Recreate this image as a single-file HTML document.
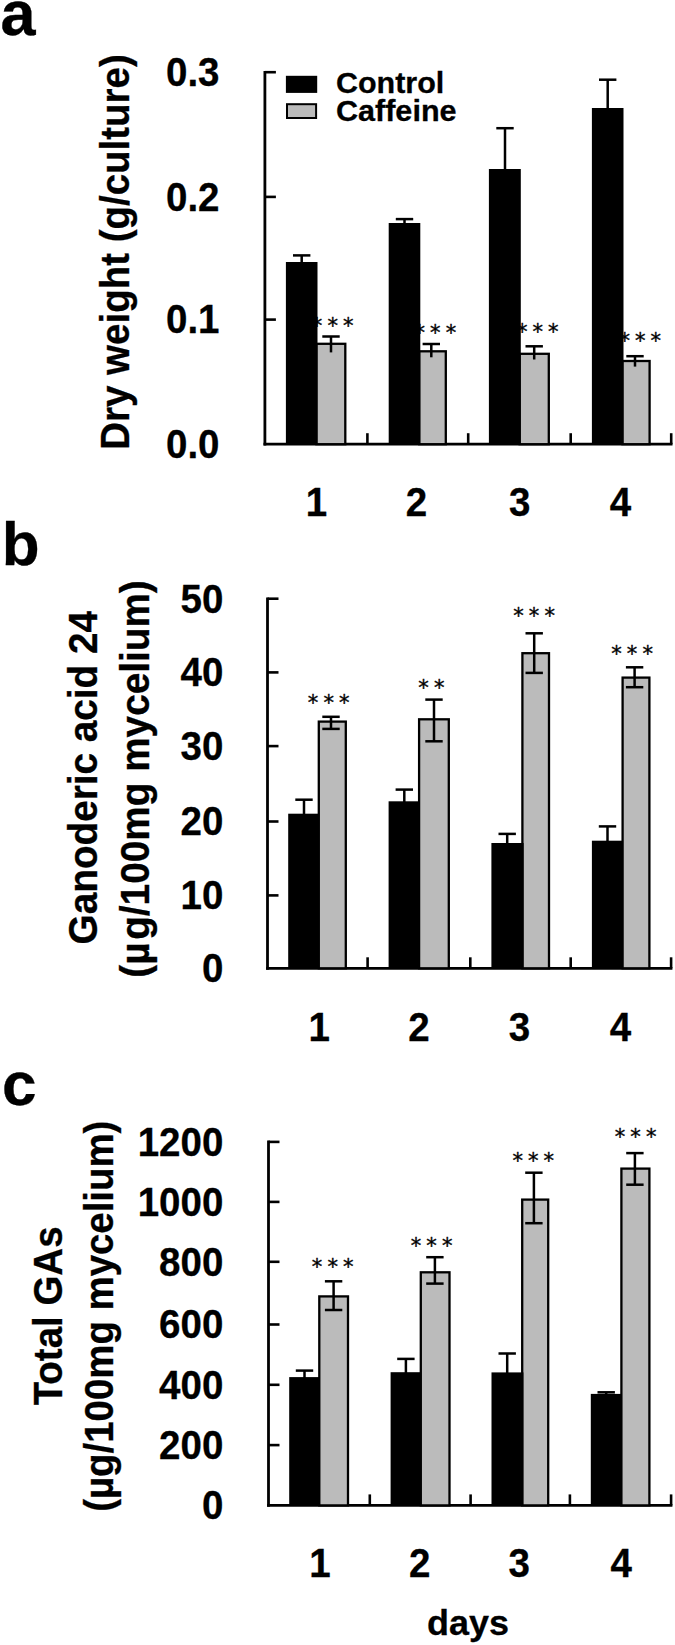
<!DOCTYPE html>
<html lang="en"><head><meta charset="utf-8"><title>Figure</title>
<style>html,body{margin:0;padding:0;background:#fff}svg{display:block}svg text{font-family:"Liberation Sans", sans-serif;fill:#000;stroke:#000;stroke-width:0.3px}.st{font-family:"DejaVu Sans","Liberation Sans",sans-serif;font-weight:normal;font-size:21px;letter-spacing:5.1px;stroke:#000;stroke-width:0.35px}</style></head><body>
<svg width="675" height="1645" viewBox="0 0 675 1645">
<rect width="675" height="1645" fill="#fff"/>
<text x="0.6" y="35.2" font-size="63" font-weight="bold" text-anchor="start">a</text>
<text x="1.8" y="565.0" font-size="62" font-weight="bold" text-anchor="start">b</text>
<text x="2.0" y="1104.9" font-size="62" font-weight="bold" text-anchor="start">c</text>
<text class="st" x="335.2" y="333.2" text-anchor="middle">***</text>
<text class="st" x="437.9" y="339.7" text-anchor="middle">***</text>
<text class="st" x="540.3" y="339.1" text-anchor="middle">***</text>
<text class="st" x="642.8" y="347.6" text-anchor="middle">***</text>
<line x1="264.9" y1="70.9" x2="264.9" y2="445.6" stroke="#000" stroke-width="2.8"/>
<line x1="263.5" y1="444.2" x2="672.5" y2="444.2" stroke="#000" stroke-width="2.8"/>
<line x1="264.9" y1="72.2" x2="275.9" y2="72.2" stroke="#000" stroke-width="2.6"/>
<line x1="264.9" y1="196.9" x2="275.9" y2="196.9" stroke="#000" stroke-width="2.6"/>
<line x1="264.9" y1="319.6" x2="275.9" y2="319.6" stroke="#000" stroke-width="2.6"/>
<line x1="367.4" y1="444.2" x2="367.4" y2="433.2" stroke="#000" stroke-width="2.6"/>
<line x1="468.2" y1="444.2" x2="468.2" y2="433.2" stroke="#000" stroke-width="2.6"/>
<line x1="570.7" y1="444.2" x2="570.7" y2="433.2" stroke="#000" stroke-width="2.6"/>
<line x1="671.2" y1="444.2" x2="671.2" y2="433.2" stroke="#000" stroke-width="2.6"/>
<text transform="translate(219.5,86.0) scale(1,1.038)" font-size="38.5" font-weight="bold" text-anchor="end">0.3</text>
<text transform="translate(219.5,210.7) scale(1,1.038)" font-size="38.5" font-weight="bold" text-anchor="end">0.2</text>
<text transform="translate(219.5,333.4) scale(1,1.038)" font-size="38.5" font-weight="bold" text-anchor="end">0.1</text>
<text transform="translate(219.5,458.1) scale(1,1.038)" font-size="38.5" font-weight="bold" text-anchor="end">0.0</text>
<text transform="translate(316.5,516.2) scale(1,1.038)" font-size="38.5" font-weight="bold" text-anchor="middle">1</text>
<text transform="translate(416.4,516.2) scale(1,1.038)" font-size="38.5" font-weight="bold" text-anchor="middle">2</text>
<text transform="translate(519.6,516.2) scale(1,1.038)" font-size="38.5" font-weight="bold" text-anchor="middle">3</text>
<text transform="translate(620.5,516.2) scale(1,1.038)" font-size="38.5" font-weight="bold" text-anchor="middle">4</text>
<text transform="translate(128.9,252.0) rotate(-90) scale(1,1.038)" font-size="38.5" font-weight="bold" text-anchor="middle">Dry weight (g/culture)</text>
<rect x="316.4" y="343.8" width="28.9" height="100.4" fill="#bbbbbb" stroke="#000" stroke-width="2.3"/>
<line x1="331.0" y1="336.5" x2="331.0" y2="352.4" stroke="#000" stroke-width="2.5"/>
<line x1="322.3" y1="336.5" x2="339.7" y2="336.5" stroke="#000" stroke-width="2.5"/>
<rect x="419.2" y="351.3" width="26.6" height="92.9" fill="#bbbbbb" stroke="#000" stroke-width="2.3"/>
<line x1="431.3" y1="344.0" x2="431.3" y2="357.3" stroke="#000" stroke-width="2.5"/>
<line x1="422.6" y1="344.0" x2="440.0" y2="344.0" stroke="#000" stroke-width="2.5"/>
<rect x="519.6" y="353.8" width="29.2" height="90.4" fill="#bbbbbb" stroke="#000" stroke-width="2.3"/>
<line x1="534.2" y1="346.3" x2="534.2" y2="359.5" stroke="#000" stroke-width="2.5"/>
<line x1="525.5" y1="346.3" x2="542.9" y2="346.3" stroke="#000" stroke-width="2.5"/>
<rect x="622.4" y="361.0" width="27.2" height="83.2" fill="#bbbbbb" stroke="#000" stroke-width="2.3"/>
<line x1="635.0" y1="356.2" x2="635.0" y2="366.6" stroke="#000" stroke-width="2.5"/>
<line x1="626.3" y1="356.2" x2="643.7" y2="356.2" stroke="#000" stroke-width="2.5"/>
<rect x="285.9" y="262.0" width="31.6" height="182.2" fill="#000"/>
<line x1="301.7" y1="255.4" x2="301.7" y2="263.0" stroke="#000" stroke-width="2.5"/>
<line x1="293.0" y1="255.4" x2="310.4" y2="255.4" stroke="#000" stroke-width="2.5"/>
<rect x="388.7" y="223.0" width="31.6" height="221.2" fill="#000"/>
<line x1="404.5" y1="219.1" x2="404.5" y2="224.0" stroke="#000" stroke-width="2.5"/>
<line x1="395.8" y1="219.1" x2="413.2" y2="219.1" stroke="#000" stroke-width="2.5"/>
<rect x="488.9" y="169.0" width="31.9" height="275.2" fill="#000"/>
<line x1="505.0" y1="128.2" x2="505.0" y2="170.0" stroke="#000" stroke-width="2.5"/>
<line x1="496.3" y1="128.2" x2="513.7" y2="128.2" stroke="#000" stroke-width="2.5"/>
<rect x="591.9" y="108.0" width="31.6" height="336.2" fill="#000"/>
<line x1="607.7" y1="79.7" x2="607.7" y2="109.0" stroke="#000" stroke-width="2.5"/>
<line x1="599.0" y1="79.7" x2="616.4" y2="79.7" stroke="#000" stroke-width="2.5"/>
<rect x="285.9" y="75.8" width="31.3" height="17.1" fill="#000"/>
<rect x="287.0" y="104.2" width="29.1" height="13.8" fill="#bbbbbb" stroke="#000" stroke-width="2"/>
<text transform="translate(335.9,93.1) scale(1,0.98)" font-size="30.5" font-weight="bold" text-anchor="start">Control</text>
<text transform="translate(335.9,120.8) scale(1,0.98)" font-size="30.6" font-weight="bold" text-anchor="start">Caffeine</text>
<text class="st" x="331.2" y="710.4" text-anchor="middle">***</text>
<text class="st" x="433.9" y="694.7" text-anchor="middle">**</text>
<text class="st" x="536.6" y="623.2" text-anchor="middle">***</text>
<text class="st" x="634.6" y="660.6" text-anchor="middle">***</text>
<line x1="267.5" y1="597.4" x2="267.5" y2="969.7" stroke="#000" stroke-width="2.8"/>
<line x1="266.1" y1="968.3" x2="672.4" y2="968.3" stroke="#000" stroke-width="2.8"/>
<line x1="267.5" y1="598.7" x2="278.5" y2="598.7" stroke="#000" stroke-width="2.6"/>
<line x1="267.5" y1="672.4" x2="278.5" y2="672.4" stroke="#000" stroke-width="2.6"/>
<line x1="267.5" y1="746.1" x2="278.5" y2="746.1" stroke="#000" stroke-width="2.6"/>
<line x1="267.5" y1="821.5" x2="278.5" y2="821.5" stroke="#000" stroke-width="2.6"/>
<line x1="267.5" y1="895.4" x2="278.5" y2="895.4" stroke="#000" stroke-width="2.6"/>
<line x1="367.6" y1="968.3" x2="367.6" y2="957.3" stroke="#000" stroke-width="2.6"/>
<line x1="470.3" y1="968.3" x2="470.3" y2="957.3" stroke="#000" stroke-width="2.6"/>
<line x1="570.7" y1="968.3" x2="570.7" y2="957.3" stroke="#000" stroke-width="2.6"/>
<line x1="671.1" y1="968.3" x2="671.1" y2="957.3" stroke="#000" stroke-width="2.6"/>
<text transform="translate(223.3,612.5) scale(1,1.038)" font-size="38.5" font-weight="bold" text-anchor="end">50</text>
<text transform="translate(223.3,686.2) scale(1,1.038)" font-size="38.5" font-weight="bold" text-anchor="end">40</text>
<text transform="translate(223.3,759.9) scale(1,1.038)" font-size="38.5" font-weight="bold" text-anchor="end">30</text>
<text transform="translate(223.3,835.3) scale(1,1.038)" font-size="38.5" font-weight="bold" text-anchor="end">20</text>
<text transform="translate(223.3,909.2) scale(1,1.038)" font-size="38.5" font-weight="bold" text-anchor="end">10</text>
<text transform="translate(223.3,982.1) scale(1,1.038)" font-size="38.5" font-weight="bold" text-anchor="end">0</text>
<text transform="translate(319.2,1041.0) scale(1,1.038)" font-size="38.5" font-weight="bold" text-anchor="middle">1</text>
<text transform="translate(419.0,1041.0) scale(1,1.038)" font-size="38.5" font-weight="bold" text-anchor="middle">2</text>
<text transform="translate(519.5,1041.0) scale(1,1.038)" font-size="38.5" font-weight="bold" text-anchor="middle">3</text>
<text transform="translate(620.5,1041.0) scale(1,1.038)" font-size="38.5" font-weight="bold" text-anchor="middle">4</text>
<text transform="translate(96.9,777.7) rotate(-90) scale(1,1.038)" font-size="38.7" font-weight="bold" text-anchor="middle">Ganoderic acid 24</text>
<text transform="translate(148.7,779.0) rotate(-90) scale(1,1.038)" font-size="38.75" font-weight="bold" text-anchor="middle">(µ<tspan dx="2.7">g/100mg mycelium)</tspan></text>
<rect x="318.8" y="721.6" width="27.0" height="246.7" fill="#bbbbbb" stroke="#000" stroke-width="2.3"/>
<line x1="331.0" y1="716.8" x2="331.0" y2="728.9" stroke="#000" stroke-width="2.5"/>
<line x1="322.3" y1="716.8" x2="339.7" y2="716.8" stroke="#000" stroke-width="2.5"/>
<line x1="322.3" y1="728.9" x2="339.7" y2="728.9" stroke="#000" stroke-width="2.5"/>
<rect x="419.1" y="719.3" width="29.7" height="249.0" fill="#bbbbbb" stroke="#000" stroke-width="2.3"/>
<line x1="434.0" y1="699.6" x2="434.0" y2="741.3" stroke="#000" stroke-width="2.5"/>
<line x1="425.3" y1="699.6" x2="442.7" y2="699.6" stroke="#000" stroke-width="2.5"/>
<line x1="425.3" y1="741.3" x2="442.7" y2="741.3" stroke="#000" stroke-width="2.5"/>
<rect x="522.4" y="653.2" width="26.6" height="315.1" fill="#bbbbbb" stroke="#000" stroke-width="2.3"/>
<line x1="534.2" y1="633.3" x2="534.2" y2="672.9" stroke="#000" stroke-width="2.5"/>
<line x1="525.5" y1="633.3" x2="542.9" y2="633.3" stroke="#000" stroke-width="2.5"/>
<line x1="525.5" y1="672.9" x2="542.9" y2="672.9" stroke="#000" stroke-width="2.5"/>
<rect x="622.6" y="677.6" width="26.8" height="290.7" fill="#bbbbbb" stroke="#000" stroke-width="2.3"/>
<line x1="634.6" y1="667.3" x2="634.6" y2="687.2" stroke="#000" stroke-width="2.5"/>
<line x1="625.9" y1="667.3" x2="643.3" y2="667.3" stroke="#000" stroke-width="2.5"/>
<line x1="625.9" y1="687.2" x2="643.3" y2="687.2" stroke="#000" stroke-width="2.5"/>
<rect x="288.2" y="813.7" width="30.4" height="154.6" fill="#000"/>
<line x1="304.0" y1="799.7" x2="304.0" y2="814.7" stroke="#000" stroke-width="2.5"/>
<line x1="295.3" y1="799.7" x2="312.7" y2="799.7" stroke="#000" stroke-width="2.5"/>
<rect x="388.6" y="801.3" width="30.4" height="167.0" fill="#000"/>
<line x1="404.3" y1="789.6" x2="404.3" y2="802.3" stroke="#000" stroke-width="2.5"/>
<line x1="395.6" y1="789.6" x2="413.0" y2="789.6" stroke="#000" stroke-width="2.5"/>
<rect x="491.4" y="843.0" width="32.2" height="125.3" fill="#000"/>
<line x1="507.2" y1="833.9" x2="507.2" y2="844.0" stroke="#000" stroke-width="2.5"/>
<line x1="498.5" y1="833.9" x2="515.9" y2="833.9" stroke="#000" stroke-width="2.5"/>
<rect x="591.9" y="840.7" width="31.0" height="127.6" fill="#000"/>
<line x1="607.5" y1="826.4" x2="607.5" y2="841.7" stroke="#000" stroke-width="2.5"/>
<line x1="598.8" y1="826.4" x2="616.2" y2="826.4" stroke="#000" stroke-width="2.5"/>
<text class="st" x="335.2" y="1274.4" text-anchor="middle">***</text>
<text class="st" x="434.1" y="1253.2" text-anchor="middle">***</text>
<text class="st" x="535.8" y="1167.6" text-anchor="middle">***</text>
<text class="st" x="638.1" y="1144.0" text-anchor="middle">***</text>
<line x1="268.5" y1="1140.6" x2="268.5" y2="1506.8" stroke="#000" stroke-width="2.8"/>
<line x1="267.1" y1="1505.4" x2="672.4" y2="1505.4" stroke="#000" stroke-width="2.8"/>
<line x1="268.5" y1="1141.9" x2="279.5" y2="1141.9" stroke="#000" stroke-width="2.6"/>
<line x1="268.5" y1="1201.9" x2="279.5" y2="1201.9" stroke="#000" stroke-width="2.6"/>
<line x1="268.5" y1="1261.8" x2="279.5" y2="1261.8" stroke="#000" stroke-width="2.6"/>
<line x1="268.5" y1="1324.5" x2="279.5" y2="1324.5" stroke="#000" stroke-width="2.6"/>
<line x1="268.5" y1="1384.8" x2="279.5" y2="1384.8" stroke="#000" stroke-width="2.6"/>
<line x1="268.5" y1="1445.1" x2="279.5" y2="1445.1" stroke="#000" stroke-width="2.6"/>
<line x1="369.8" y1="1505.4" x2="369.8" y2="1494.4" stroke="#000" stroke-width="2.6"/>
<line x1="470.6" y1="1505.4" x2="470.6" y2="1494.4" stroke="#000" stroke-width="2.6"/>
<line x1="569.9" y1="1505.4" x2="569.9" y2="1494.4" stroke="#000" stroke-width="2.6"/>
<line x1="671.1" y1="1505.4" x2="671.1" y2="1494.4" stroke="#000" stroke-width="2.6"/>
<text transform="translate(223.3,1155.7) scale(1,1.038)" font-size="38.5" font-weight="bold" text-anchor="end">1200</text>
<text transform="translate(223.3,1215.7) scale(1,1.038)" font-size="38.5" font-weight="bold" text-anchor="end">1000</text>
<text transform="translate(223.3,1275.6) scale(1,1.038)" font-size="38.5" font-weight="bold" text-anchor="end">800</text>
<text transform="translate(223.3,1338.3) scale(1,1.038)" font-size="38.5" font-weight="bold" text-anchor="end">600</text>
<text transform="translate(223.3,1398.6) scale(1,1.038)" font-size="38.5" font-weight="bold" text-anchor="end">400</text>
<text transform="translate(223.3,1458.9) scale(1,1.038)" font-size="38.5" font-weight="bold" text-anchor="end">200</text>
<text transform="translate(223.3,1519.2) scale(1,1.038)" font-size="38.5" font-weight="bold" text-anchor="end">0</text>
<text transform="translate(319.9,1577.3) scale(1,1.038)" font-size="38.5" font-weight="bold" text-anchor="middle">1</text>
<text transform="translate(419.8,1577.3) scale(1,1.038)" font-size="38.5" font-weight="bold" text-anchor="middle">2</text>
<text transform="translate(519.2,1577.3) scale(1,1.038)" font-size="38.5" font-weight="bold" text-anchor="middle">3</text>
<text transform="translate(621.1,1577.3) scale(1,1.038)" font-size="38.5" font-weight="bold" text-anchor="middle">4</text>
<text transform="translate(61.9,1315.9) rotate(-90) scale(1,1.038)" font-size="38.5" font-weight="bold" text-anchor="middle">Total GAs</text>
<text transform="translate(112.9,1316.2) rotate(-90) scale(1,1.038)" font-size="38.4" font-weight="bold" text-anchor="middle">(µg/100mg mycelium)</text>
<rect x="319.3" y="1296.4" width="28.7" height="209.0" fill="#bbbbbb" stroke="#000" stroke-width="2.3"/>
<line x1="333.6" y1="1281.3" x2="333.6" y2="1310.0" stroke="#000" stroke-width="2.5"/>
<line x1="324.9" y1="1281.3" x2="342.3" y2="1281.3" stroke="#000" stroke-width="2.5"/>
<line x1="324.9" y1="1310.0" x2="342.3" y2="1310.0" stroke="#000" stroke-width="2.5"/>
<rect x="420.8" y="1272.3" width="28.7" height="233.1" fill="#bbbbbb" stroke="#000" stroke-width="2.3"/>
<line x1="434.9" y1="1257.2" x2="434.9" y2="1283.6" stroke="#000" stroke-width="2.5"/>
<line x1="426.2" y1="1257.2" x2="443.6" y2="1257.2" stroke="#000" stroke-width="2.5"/>
<line x1="426.2" y1="1283.6" x2="443.6" y2="1283.6" stroke="#000" stroke-width="2.5"/>
<rect x="522.2" y="1199.6" width="26.0" height="305.8" fill="#bbbbbb" stroke="#000" stroke-width="2.3"/>
<line x1="533.9" y1="1172.7" x2="533.9" y2="1223.2" stroke="#000" stroke-width="2.5"/>
<line x1="525.2" y1="1172.7" x2="542.6" y2="1172.7" stroke="#000" stroke-width="2.5"/>
<line x1="525.2" y1="1223.2" x2="542.6" y2="1223.2" stroke="#000" stroke-width="2.5"/>
<rect x="621.4" y="1168.6" width="28.0" height="336.8" fill="#bbbbbb" stroke="#000" stroke-width="2.3"/>
<line x1="634.9" y1="1153.1" x2="634.9" y2="1184.7" stroke="#000" stroke-width="2.5"/>
<line x1="626.2" y1="1153.1" x2="643.6" y2="1153.1" stroke="#000" stroke-width="2.5"/>
<line x1="626.2" y1="1184.7" x2="643.6" y2="1184.7" stroke="#000" stroke-width="2.5"/>
<rect x="289.2" y="1377.1" width="30.0" height="128.3" fill="#000"/>
<line x1="304.5" y1="1370.6" x2="304.5" y2="1378.1" stroke="#000" stroke-width="2.5"/>
<line x1="295.8" y1="1370.6" x2="313.2" y2="1370.6" stroke="#000" stroke-width="2.5"/>
<rect x="390.6" y="1372.2" width="30.0" height="133.2" fill="#000"/>
<line x1="405.9" y1="1358.9" x2="405.9" y2="1373.2" stroke="#000" stroke-width="2.5"/>
<line x1="397.2" y1="1358.9" x2="414.6" y2="1358.9" stroke="#000" stroke-width="2.5"/>
<rect x="491.5" y="1372.4" width="31.9" height="133.0" fill="#000"/>
<line x1="507.2" y1="1353.5" x2="507.2" y2="1373.4" stroke="#000" stroke-width="2.5"/>
<line x1="498.5" y1="1353.5" x2="515.9" y2="1353.5" stroke="#000" stroke-width="2.5"/>
<rect x="590.8" y="1393.9" width="30.6" height="111.5" fill="#000"/>
<line x1="606.2" y1="1392.3" x2="606.2" y2="1394.9" stroke="#000" stroke-width="2.5"/>
<line x1="597.5" y1="1392.3" x2="614.9" y2="1392.3" stroke="#000" stroke-width="2.5"/>
<text transform="translate(468.0,1634.8) scale(1,0.95)" font-size="36" font-weight="bold" text-anchor="middle">days</text>
</svg></body></html>
